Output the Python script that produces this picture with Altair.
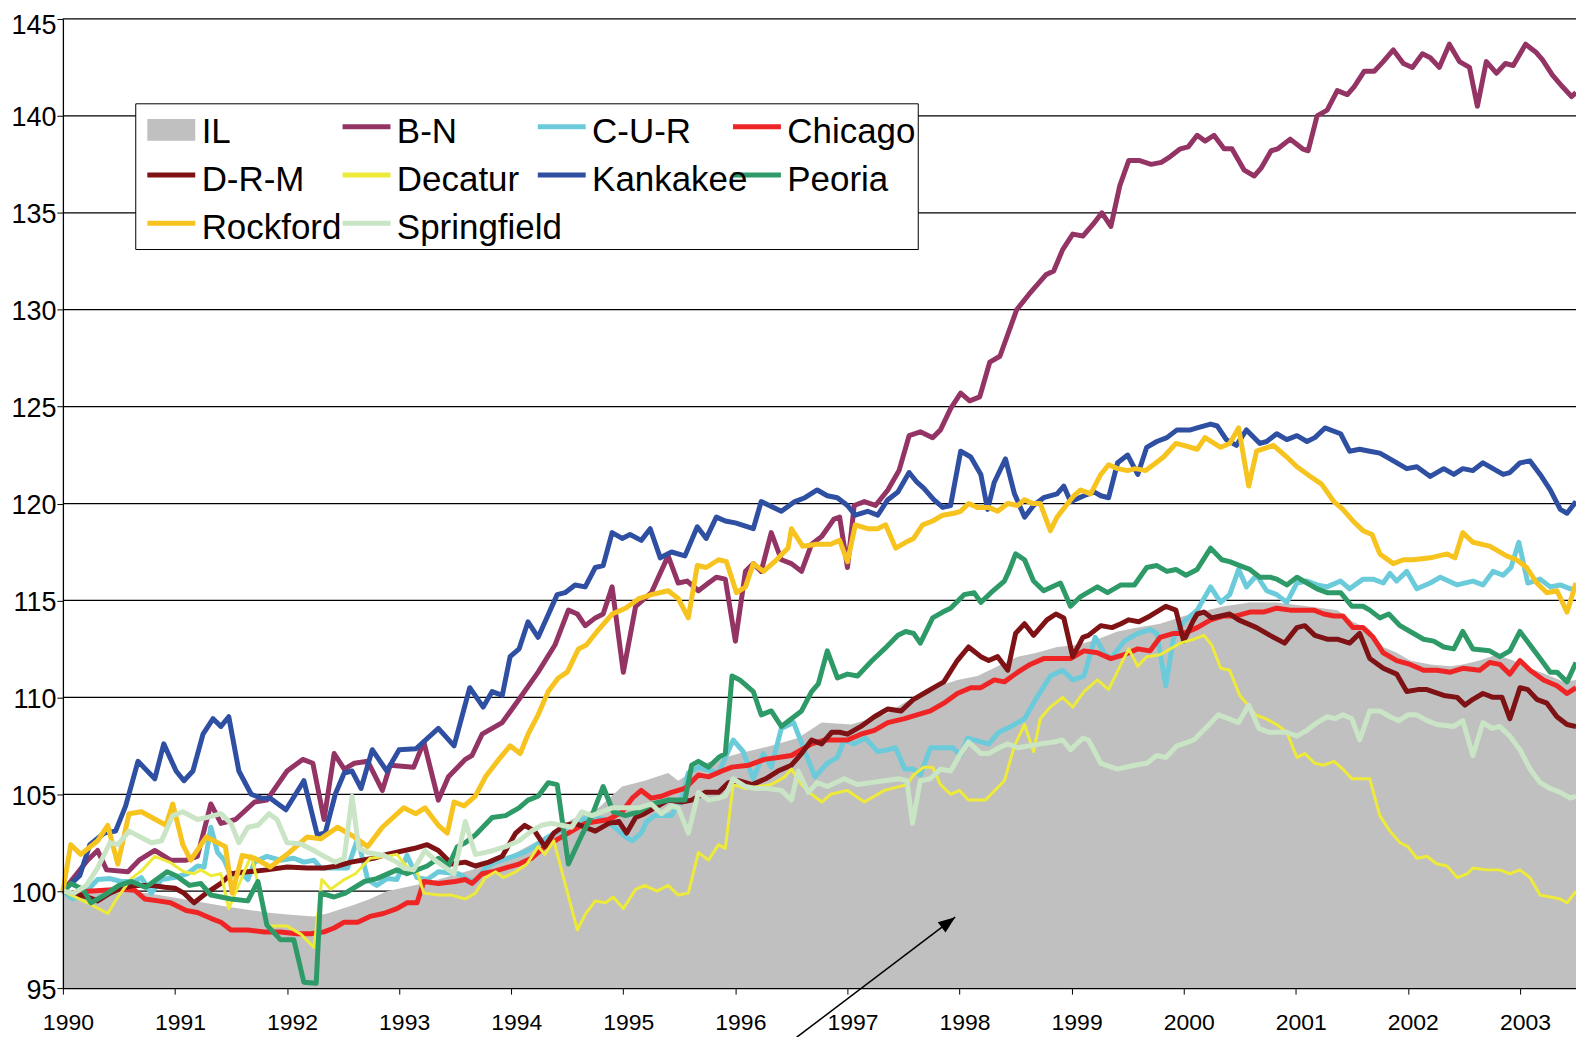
import altair as alt
import pandas as pd

# ---------------- data: (decimal year, index value) ----------------
IL = [(1990.00,100.0),(1990.22,99.9),(1990.52,100.0),(1990.76,99.9),(1990.96,99.7),(1991.17,99.5),
      (1991.47,99.2),(1991.82,98.9),(1992.00,98.8),(1992.24,98.7),(1992.36,98.85),(1992.60,99.3),
      (1992.74,99.6),(1992.89,100.0),(1993.13,100.3),(1993.35,100.6),(1993.65,101.1),(1993.95,101.7),
      (1994.24,102.6),(1994.54,103.7),(1994.78,104.3),(1994.99,105.4),(1995.19,105.7),(1995.40,106.1),
      (1995.49,105.7),(1995.73,106.6),(1996.03,107.1),(1996.32,107.5),(1996.56,107.9),(1996.77,108.7),
      (1997.03,108.6),(1997.33,109.1),(1997.56,109.9),(1997.77,110.5),(1997.98,110.9),(1998.16,111.1),
      (1998.34,111.6),(1998.52,112.1),(1998.69,112.3),(1998.87,112.6),(1999.05,112.7),(1999.23,113.0),
      (1999.41,113.4),(1999.59,113.6),(1999.79,113.8),(2000.00,114.2),(2000.15,114.4),(2000.36,114.7),
      (2000.59,114.9),(2000.83,114.9),(2001.10,114.7),(2001.37,114.5),(2001.51,113.9),(2001.66,113.5),
      (2001.78,112.6),(2001.90,112.3),(2002.02,111.9),(2002.20,111.7),(2002.38,111.6),(2002.49,111.7),
      (2002.64,111.9),(2002.79,112.2),(2002.94,111.9),(2003.09,111.5),(2003.27,111.1),(2003.39,110.8),
      (2003.50,110.9)]

B_N = [(1990.00,100.0),(1990.22,101.6),(1990.31,102.1),(1990.39,101.1),(1990.58,101.0),(1990.68,101.6),
       (1990.82,102.1),(1990.96,101.6),(1991.10,101.6),(1991.20,101.8),(1991.32,104.5),(1991.41,103.5),
       (1991.54,103.7),(1991.71,104.6),(1991.82,104.7),(1992.00,106.2),(1992.14,106.8),(1992.23,106.6),
       (1992.33,103.7),(1992.42,107.1),(1992.51,106.3),(1992.60,106.6),(1992.72,106.7),(1992.85,105.2),
       (1992.92,106.5),(1993.13,106.4),(1993.22,107.7),(1993.35,104.7),(1993.44,105.9),(1993.59,106.8),
       (1993.65,107.0),(1993.74,108.1),(1993.92,108.7),(1994.07,109.9),(1994.24,111.3),(1994.39,112.7),
       (1994.51,114.5),(1994.59,114.3),(1994.66,113.7),(1994.75,114.1),(1994.82,114.3),(1994.90,115.7),
       (1995.00,111.3),(1995.11,114.7),(1995.25,115.4),(1995.40,117.3),(1995.49,115.9),(1995.57,116.0),
       (1995.67,115.5),(1995.76,115.9),(1995.83,116.2),(1995.91,116.1),(1996.00,112.9),(1996.09,116.5),
       (1996.16,116.9),(1996.23,116.5),(1996.32,118.5),(1996.41,117.1),(1996.50,116.9),(1996.59,116.5),
       (1996.68,117.9),(1996.77,118.3),(1996.88,119.2),(1996.93,119.3),(1997.00,116.7),(1997.06,119.9),
       (1997.15,120.1),(1997.25,119.9),(1997.36,120.7),(1997.46,121.7),(1997.55,123.5),(1997.65,123.7),
       (1997.76,123.4),(1997.83,123.8),(1997.92,124.9),(1998.01,125.7),(1998.09,125.3),(1998.18,125.5),
       (1998.27,127.3),(1998.36,127.6),(1998.51,130.0),(1998.62,130.8),(1998.77,131.8),(1998.84,132.0),
       (1998.92,133.1),(1999.01,133.9),(1999.10,133.8),(1999.19,134.4),(1999.27,135.0),(1999.35,134.3),
       (1999.43,136.4),(1999.51,137.7),(1999.60,137.7),(1999.71,137.5),(1999.80,137.6),(1999.88,137.9),
       (1999.97,138.3),(2000.04,138.4),(2000.12,139.0),(2000.19,138.7),(2000.27,139.0),(2000.36,138.3),
       (2000.43,138.3),(2000.54,137.2),(2000.63,136.9),(2000.69,137.3),(2000.78,138.2),(2000.84,138.3),
       (2000.95,138.8),(2001.06,138.3),(2001.11,138.2),(2001.19,140.0),(2001.28,140.3),(2001.37,141.3),
       (2001.46,141.1),(2001.52,141.5),(2001.61,142.3),(2001.70,142.3),(2001.78,142.8),(2001.87,143.4),
       (2001.96,142.7),(2002.04,142.5),(2002.13,143.2),(2002.20,143.0),(2002.28,142.5),(2002.37,143.7),
       (2002.46,142.8),(2002.55,142.5),(2002.62,140.5),(2002.70,142.8),(2002.79,142.2),(2002.87,142.7),
       (2002.94,142.6),(2003.05,143.7),(2003.14,143.3),(2003.20,142.9),(2003.29,142.1),(2003.38,141.5),
       (2003.46,141.0),(2003.50,141.2)]

C_U_R = [(1990.00,100.0),(1990.09,99.6),(1990.18,99.8),(1990.31,100.6),(1990.42,100.65),(1990.52,100.5),
         (1990.64,100.5),(1990.70,100.7),(1990.79,99.9),(1990.88,100.6),(1990.99,100.7),(1991.11,100.9),
         (1991.20,101.3),(1991.26,101.25),(1991.32,103.3),(1991.38,102.0),(1991.44,101.6),(1991.50,100.8),
         (1991.59,101.0),(1991.65,100.6),(1991.71,101.5),(1991.82,101.8),(1991.94,101.6),(1992.06,101.7),
         (1992.15,101.5),(1992.24,101.6),(1992.30,101.2),(1992.42,101.2),(1992.54,101.2),(1992.63,102.7),
         (1992.72,100.6),(1992.80,100.3),(1992.89,100.65),(1992.98,100.6),(1993.07,101.85),(1993.16,100.7),
         (1993.25,100.6),(1993.35,101.0),(1993.53,100.9),(1993.62,100.6),(1993.68,100.5),(1993.77,101.2),
         (1993.86,101.5),(1994.07,101.9),(1994.15,102.1),(1994.33,102.8),(1994.42,103.1),(1994.54,103.4),
         (1994.63,103.7),(1994.72,103.8),(1994.84,103.7),(1995.02,102.8),(1995.08,102.6),(1995.16,103.0),
         (1995.21,103.6),(1995.28,103.9),(1995.43,103.9),(1995.52,104.8),(1995.58,106.1),(1995.67,106.4),
         (1995.85,106.1),(1995.98,107.8),(1996.07,107.2),(1996.16,105.8),(1996.25,107.1),(1996.32,106.4),
         (1996.41,108.4),(1996.52,108.7),(1996.62,107.2),(1996.71,105.9),(1996.82,106.6),(1996.91,106.9),
         (1996.97,107.8),(1997.06,107.6),(1997.16,107.9),(1997.27,107.2),(1997.36,107.3),(1997.43,107.4),
         (1997.51,106.3),(1997.59,106.3),(1997.65,106.0),(1997.74,107.4),(1997.86,107.4),(1997.94,107.4),
         (1998.01,107.0),(1998.07,107.9),(1998.19,107.7),(1998.26,107.6),(1998.35,108.2),(1998.46,108.5),
         (1998.58,108.9),(1998.69,110.0),(1998.81,111.1),(1998.92,111.4),(1999.01,110.9),(1999.11,111.1),
         (1999.21,113.1),(1999.29,112.3),(1999.35,112.0),(1999.47,112.9),(1999.59,113.3),(1999.70,113.5),
         (1999.76,113.3),(1999.84,110.6),(1999.91,113.1),(2000.00,113.9),(2000.12,114.5),(2000.24,115.7),
         (2000.33,114.9),(2000.41,115.3),(2000.49,116.6),(2000.56,115.7),(2000.65,116.3),(2000.74,115.5),
         (2000.83,115.3),(2000.92,114.9),(2001.01,115.9),(2001.10,116.0),(2001.19,115.8),(2001.28,115.7),
         (2001.40,116.0),(2001.48,115.6),(2001.60,116.1),(2001.69,116.1),(2001.78,115.9),(2001.84,116.4),
         (2001.90,116.0),(2001.99,116.5),(2002.08,115.6),(2002.20,115.9),(2002.29,116.2),(2002.44,115.8),
         (2002.58,116.0),(2002.67,115.8),(2002.76,116.5),(2002.85,116.3),(2002.92,116.7),(2002.99,118.0),
         (2003.07,115.9),(2003.18,116.1),(2003.27,115.7),(2003.36,115.8),(2003.45,115.6),(2003.50,115.6)]

CHICAGO = [(1990.00,100.0),(1990.10,99.9),(1990.22,100.0),(1990.52,100.1),(1990.64,100.05),(1990.73,99.6),
           (1990.85,99.5),(1990.96,99.4),(1991.10,99.0),(1991.20,98.9),(1991.32,98.6),(1991.41,98.4),
           (1991.50,98.0),(1991.65,98.0),(1991.80,97.9),(1991.94,97.9),(1992.09,97.8),(1992.21,97.8),
           (1992.33,97.9),(1992.42,98.1),(1992.51,98.4),(1992.63,98.4),(1992.74,98.7),(1992.86,98.85),
           (1992.98,99.1),(1993.07,99.4),(1993.16,99.4),(1993.22,100.5),(1993.35,100.4),(1993.50,100.5),
           (1993.59,100.6),(1993.65,100.4),(1993.74,100.9),(1993.83,101.0),(1993.95,101.2),(1994.07,101.4),
           (1994.18,101.7),(1994.30,102.3),(1994.42,102.7),(1994.66,103.5),(1994.87,103.7),(1994.99,104.1),
           (1995.08,104.8),(1995.16,105.2),(1995.25,104.8),(1995.34,104.9),(1995.43,105.1),(1995.55,105.3),
           (1995.67,106.0),(1995.76,105.9),(1995.88,106.2),(1995.97,106.4),(1996.12,106.5),(1996.26,106.8),
           (1996.38,106.9),(1996.50,107.0),(1996.59,107.3),(1996.68,107.6),(1996.80,107.8),(1997.00,107.8),
           (1997.12,108.1),(1997.24,108.3),(1997.36,108.7),(1997.51,108.9),(1997.62,109.1),(1997.74,109.3),
           (1997.86,109.7),(1997.98,110.2),(1998.10,110.5),(1998.19,110.5),(1998.31,110.9),(1998.40,110.8),
           (1998.52,111.3),(1998.63,111.7),(1998.75,112.0),(1998.99,112.0),(1999.11,112.4),(1999.23,112.3),
           (1999.35,112.0),(1999.47,112.2),(1999.59,112.5),(1999.70,112.4),(1999.79,113.1),(1999.91,113.3),
           (2000.00,113.3),(2000.12,113.6),(2000.24,114.0),(2000.36,114.2),(2000.47,114.2),(2000.59,114.4),
           (2000.71,114.4),(2000.83,114.6),(2000.95,114.5),(2001.16,114.5),(2001.25,114.3),(2001.34,114.2),
           (2001.42,114.2),(2001.51,113.6),(2001.60,113.6),(2001.69,113.1),(2001.78,112.3),(2001.90,111.9),
           (2002.02,111.7),(2002.14,111.4),(2002.26,111.4),(2002.38,111.3),(2002.49,111.5),(2002.64,111.4),
           (2002.73,111.8),(2002.82,111.7),(2002.91,111.2),(2003.00,111.9),(2003.09,111.4),(2003.21,110.9),
           (2003.33,110.6),(2003.42,110.2),(2003.50,110.5)]

D_R_M = [(1990.00,100.0),(1990.22,99.7),(1990.31,99.5),(1990.42,99.9),(1990.52,100.15),(1990.64,100.3),
         (1990.79,100.3),(1990.91,100.2),(1991.00,100.15),(1991.08,99.9),(1991.17,99.4),(1991.28,99.9),
         (1991.41,100.4),(1991.50,100.9),(1991.65,101.0),(1991.82,101.1),(1992.00,101.25),(1992.18,101.2),
         (1992.33,101.2),(1992.45,101.3),(1992.57,101.5),(1992.77,101.7),(1992.89,101.9),(1993.13,102.2),
         (1993.25,102.4),(1993.35,102.1),(1993.47,101.4),(1993.59,101.5),(1993.68,101.3),(1993.80,101.5),
         (1993.92,101.8),(1994.04,103.0),(1994.12,103.4),(1994.21,103.1),(1994.30,102.3),(1994.38,103.0),
         (1994.48,103.4),(1994.57,103.5),(1994.66,103.3),(1994.75,103.1),(1994.87,103.5),(1994.96,103.6),
         (1995.03,103.0),(1995.11,103.8),(1995.19,104.0),(1995.28,104.3),(1995.40,104.7),(1995.52,104.6),
         (1995.61,104.7),(1995.73,105.1),(1995.85,105.1),(1995.94,105.6),(1996.03,105.7),(1996.15,105.5),
         (1996.27,105.8),(1996.38,106.2),(1996.50,106.5),(1996.59,107.1),(1996.68,107.8),(1996.77,107.6),
         (1996.86,108.2),(1996.93,108.2),(1997.00,108.1),(1997.12,108.5),(1997.24,109.0),(1997.36,109.4),
         (1997.48,109.3),(1997.59,109.9),(1997.68,110.2),(1997.77,110.5),(1997.86,110.8),(1997.98,111.9),
         (1998.08,112.6),(1998.19,112.1),(1998.26,111.9),(1998.34,112.1),(1998.43,111.4),(1998.50,113.3),
         (1998.58,113.8),(1998.66,113.2),(1998.78,114.0),(1998.86,114.3),(1998.93,114.1),(1999.01,112.1),
         (1999.10,113.1),(1999.15,113.2),(1999.26,113.7),(1999.36,113.6),(1999.44,113.8),(1999.51,114.0),
         (1999.60,113.9),(1999.70,114.2),(1999.84,114.7),(1999.93,114.5),(2000.00,112.9),(2000.08,113.9),
         (2000.12,114.3),(2000.18,114.4),(2000.25,114.1),(2000.41,114.3),(2000.49,114.0),(2000.65,113.6),
         (2000.77,113.2),(2000.90,112.8),(2001.01,113.6),(2001.08,113.7),(2001.17,113.2),(2001.28,113.0),
         (2001.37,113.0),(2001.48,112.8),(2001.57,113.3),(2001.66,112.0),(2001.78,111.5),(2001.90,111.2),
         (2001.99,110.3),(2002.09,110.4),(2002.17,110.4),(2002.32,110.1),(2002.44,110.0),(2002.51,109.6),
         (2002.58,109.9),(2002.67,110.2),(2002.76,110.0),(2002.84,110.0),(2002.91,108.9),(2003.00,110.5),
         (2003.07,110.4),(2003.15,109.9),(2003.24,109.7),(2003.33,109.0),(2003.42,108.6),(2003.50,108.5)]

DECATUR = [(1990.00,100.0),(1990.22,99.4),(1990.40,98.85),(1990.49,99.7),(1990.61,100.65),(1990.71,101.1),
           (1990.82,101.8),(1990.95,101.5),(1991.08,101.0),(1991.17,100.9),(1991.23,101.1),(1991.32,100.8),
           (1991.41,100.9),(1991.48,99.1),(1991.68,101.85),(1991.74,100.4),(1991.82,98.2),(1992.00,98.2),
           (1992.12,97.8),(1992.24,97.1),(1992.31,100.6),(1992.39,100.1),(1992.51,100.6),(1992.61,100.9),
           (1992.74,101.7),(1992.89,101.8),(1992.98,101.9),(1993.07,101.25),(1993.16,101.0),(1993.22,99.9),
           (1993.35,99.8),(1993.47,99.8),(1993.59,99.6),(1993.68,99.9),(1993.77,100.7),(1993.86,101.0),
           (1993.93,100.7),(1994.04,101.0),(1994.14,101.4),(1994.24,102.3),(1994.30,101.9),(1994.38,102.6),
           (1994.59,98.0),(1994.66,98.8),(1994.75,99.5),(1994.84,99.4),(1994.91,99.7),(1995.00,99.1),
           (1995.11,100.1),(1995.19,100.3),(1995.30,100.0),(1995.40,100.3),(1995.49,99.8),(1995.58,99.9),
           (1995.67,102.0),(1995.76,101.6),(1995.85,102.4),(1995.91,102.2),(1995.98,105.5),(1996.09,105.3),
           (1996.21,105.4),(1996.32,105.5),(1996.44,105.9),(1996.50,106.3),(1996.59,105.5),(1996.68,105.0),
           (1996.77,104.6),(1996.85,105.0),(1997.00,105.2),(1997.15,104.6),(1997.33,105.2),(1997.53,105.5),
           (1997.59,106.0),(1997.68,106.4),(1997.76,106.4),(1997.83,105.5),(1997.92,105.0),(1998.00,105.2),
           (1998.08,104.7),(1998.23,104.7),(1998.40,105.7),(1998.49,107.5),(1998.58,108.6),(1998.66,107.2),
           (1998.72,108.9),(1998.81,109.5),(1998.92,110.0),(1999.01,109.5),(1999.11,110.3),(1999.23,110.9),
           (1999.33,110.4),(1999.44,111.7),(1999.51,112.5),(1999.59,111.6),(1999.67,112.1),(1999.79,112.2),
           (1999.88,112.5),(1999.97,112.8),(2000.09,113.0),(2000.18,113.2),(2000.25,112.7),(2000.33,111.5),
           (2000.41,111.4),(2000.50,110.1),(2000.56,109.7),(2000.64,109.1),(2000.73,108.9),(2000.83,108.6),
           (2000.92,108.2),(2001.01,106.9),(2001.08,107.1),(2001.17,106.6),(2001.25,106.5),(2001.34,106.7),
           (2001.42,106.3),(2001.50,105.8),(2001.66,105.8),(2001.75,103.9),(2001.84,103.1),(2001.93,102.5),
           (2002.00,102.3),(2002.08,101.7),(2002.17,101.8),(2002.26,101.4),(2002.35,101.3),(2002.44,100.7),
           (2002.53,100.9),(2002.58,101.2),(2002.70,101.1),(2002.82,101.1),(2002.91,100.9),(2003.00,101.1),
           (2003.09,100.7),(2003.18,99.8),(2003.27,99.7),(2003.36,99.6),(2003.42,99.4),(2003.50,100.0)]

KANKAKEE = [(1990.00,100.0),(1990.15,100.8),(1990.24,102.4),(1990.37,103.0),(1990.47,103.1),(1990.56,104.4),
            (1990.67,106.7),(1990.82,105.8),(1990.90,107.6),(1991.01,106.2),(1991.08,105.7),(1991.16,106.2),
            (1991.25,108.1),(1991.34,108.9),(1991.41,108.5),(1991.48,109.0),(1991.57,106.2),(1991.68,105.0),
            (1991.77,104.8),(1991.85,104.8),(1991.99,104.2),(1992.15,105.7),(1992.27,102.9),(1992.34,103.0),
            (1992.43,105.0),(1992.51,106.1),(1992.58,106.2),(1992.66,105.3),(1992.76,107.3),(1992.89,106.2),
            (1993.00,107.3),(1993.15,107.35),(1993.35,108.4),(1993.49,107.5),(1993.63,110.5),(1993.75,109.5),
            (1993.83,110.3),(1993.92,110.1),(1993.99,112.1),(1994.07,112.5),(1994.15,113.9),(1994.24,113.1),
            (1994.41,115.3),(1994.48,115.4),(1994.57,115.8),(1994.66,115.7),(1994.75,116.7),(1994.82,116.8),
            (1994.90,118.5),(1994.99,118.2),(1995.06,118.4),(1995.16,118.1),(1995.24,118.7),(1995.33,117.2),
            (1995.43,117.5),(1995.55,117.3),(1995.66,118.8),(1995.74,118.2),(1995.83,119.3),(1995.91,119.1),
            (1996.00,119.0),(1996.16,118.7),(1996.23,120.1),(1996.41,119.6),(1996.53,120.1),(1996.62,120.3),
            (1996.73,120.7),(1996.82,120.4),(1996.91,120.3),(1997.00,119.9),(1997.07,119.4),(1997.18,119.6),
            (1997.27,119.4),(1997.36,120.2),(1997.45,120.6),(1997.55,121.6),(1997.62,121.1),(1997.68,120.8),
            (1997.77,120.2),(1997.85,119.8),(1997.92,119.9),(1998.01,122.7),(1998.10,122.4),(1998.19,121.5),
            (1998.25,119.7),(1998.31,121.1),(1998.41,122.3),(1998.49,120.5),(1998.58,119.3),(1998.66,119.9),
            (1998.75,120.3),(1998.87,120.5),(1998.93,120.9),(1998.99,120.1),(1999.11,120.4),(1999.20,120.6),
            (1999.26,120.4),(1999.33,120.3),(1999.41,122.1),(1999.50,122.5),(1999.59,121.5),(1999.67,122.9),
            (1999.76,123.2),(1999.85,123.4),(1999.94,123.8),(2000.06,123.8),(2000.12,123.9),(2000.24,124.1),
            (2000.30,124.0),(2000.38,123.3),(2000.47,123.0),(2000.56,123.8),(2000.68,123.1),(2000.74,123.2),
            (2000.83,123.6),(2000.92,123.3),(2001.01,123.5),(2001.10,123.2),(2001.17,123.4),(2001.26,123.9),
            (2001.40,123.6),(2001.48,122.7),(2001.57,122.8),(2001.66,122.7),(2001.75,122.6),(2001.84,122.3),
            (2001.99,121.8),(2002.08,121.9),(2002.20,121.4),(2002.32,121.8),(2002.41,121.5),(2002.49,121.8),
            (2002.58,121.7),(2002.67,122.1),(2002.76,121.8),(2002.85,121.5),(2002.91,121.6),(2003.00,122.1),
            (2003.09,122.2),(2003.18,121.5),(2003.27,120.7),(2003.36,119.7),(2003.42,119.5),(2003.50,120.1)]

PEORIA = [(1990.00,100.0),(1990.07,100.4),(1990.18,100.1),(1990.25,99.4),(1990.37,99.8),(1990.50,100.3),
          (1990.61,100.5),(1990.74,100.2),(1990.93,101.0),(1991.01,100.8),(1991.13,100.3),(1991.23,100.4),
          (1991.32,99.8),(1991.50,99.6),(1991.65,99.5),(1991.74,100.5),(1991.82,98.25),(1991.94,97.5),
          (1992.06,97.5),(1992.15,95.3),(1992.26,95.25),(1992.30,99.9),(1992.42,99.7),(1992.52,99.9),
          (1992.69,100.5),(1992.80,100.65),(1992.98,101.1),(1993.07,100.9),(1993.25,101.3),(1993.35,101.7),
          (1993.44,101.3),(1993.52,102.3),(1993.59,102.5),(1993.68,102.9),(1993.83,103.8),(1993.95,103.9),
          (1994.07,104.3),(1994.15,104.7),(1994.24,104.9),(1994.33,105.6),(1994.41,105.5),(1994.51,101.4),
          (1994.63,102.9),(1994.72,103.9),(1994.82,105.4),(1994.91,104.1),(1995.02,103.9),(1995.14,104.1),
          (1995.25,104.5),(1995.40,104.7),(1995.55,104.7),(1995.61,106.5),(1995.67,106.7),(1995.76,106.4),
          (1995.85,106.9),(1995.91,107.1),(1995.97,111.1),(1996.04,110.9),(1996.16,110.3),(1996.23,109.1),
          (1996.32,109.3),(1996.41,108.5),(1996.50,108.9),(1996.59,109.3),(1996.68,110.3),(1996.74,110.7),
          (1996.82,112.4),(1996.91,111.0),(1997.00,111.2),(1997.09,111.1),(1997.22,111.9),(1997.33,112.5),
          (1997.45,113.2),(1997.52,113.4),(1997.59,113.3),(1997.65,112.8),(1997.76,114.1),(1997.85,114.4),
          (1997.92,114.6),(1998.04,115.3),(1998.13,115.4),(1998.19,114.9),(1998.28,115.4),(1998.40,116.0),
          (1998.44,116.5),(1998.50,117.4),(1998.58,117.1),(1998.66,116.0),(1998.75,115.5),(1998.90,115.9),
          (1998.99,114.7),(1999.08,115.2),(1999.23,115.7),(1999.32,115.4),(1999.44,115.8),(1999.56,115.8),
          (1999.67,116.7),(1999.76,116.8),(1999.85,116.5),(1999.93,116.6),(2000.02,116.3),(2000.12,116.6),
          (2000.24,117.7),(2000.34,117.1),(2000.41,117.0),(2000.50,116.8),(2000.59,116.6),(2000.68,116.2),
          (2000.77,116.2),(2000.83,116.1),(2000.92,115.8),(2001.01,116.2),(2001.10,115.9),(2001.19,115.6),
          (2001.28,115.4),(2001.40,115.4),(2001.50,114.7),(2001.60,114.7),(2001.66,114.5),(2001.75,114.1),
          (2001.83,114.3),(2001.93,113.7),(2002.02,113.4),(2002.14,113.0),(2002.23,112.9),(2002.32,112.6),
          (2002.41,112.5),(2002.49,113.4),(2002.58,112.5),(2002.73,112.4),(2002.82,112.1),(2002.91,112.4),
          (2003.00,113.4),(2003.09,112.7),(2003.18,112.0),(2003.27,111.3),(2003.33,111.3),(2003.42,110.8),
          (2003.50,111.8)]

ROCKFORD = [(1990.00,100.0),(1990.07,102.4),(1990.16,101.9),(1990.31,102.6),(1990.40,103.4),(1990.49,101.4),
            (1990.59,104.0),(1990.70,104.1),(1990.92,103.4),(1990.98,104.5),(1991.07,102.4),(1991.14,101.6),
            (1991.28,102.8),(1991.45,102.3),(1991.51,99.9),(1991.60,101.85),(1991.71,101.7),(1991.85,101.25),
            (1992.00,101.9),(1992.18,102.8),(1992.30,102.7),(1992.45,103.3),(1992.60,102.8),(1992.72,102.3),
            (1992.85,103.3),(1993.04,104.3),(1993.15,104.0),(1993.23,104.3),(1993.35,103.4),(1993.43,103.0),
            (1993.49,104.6),(1993.58,104.4),(1993.68,104.9),(1993.77,105.9),(1993.89,106.8),(1993.99,107.5),
            (1994.08,107.1),(1994.15,108.1),(1994.24,109.1),(1994.33,110.3),(1994.42,111.0),(1994.50,111.3),
            (1994.60,112.5),(1994.67,112.7),(1994.78,113.5),(1994.90,114.3),(1995.02,114.6),(1995.14,115.1),
            (1995.25,115.3),(1995.40,115.5),(1995.49,115.1),(1995.58,114.1),(1995.66,116.8),(1995.74,116.7),
            (1995.85,117.1),(1995.92,117.0),(1996.01,115.4),(1996.09,115.7),(1996.16,116.9),(1996.25,116.5),
            (1996.35,117.0),(1996.47,117.7),(1996.50,118.7),(1996.60,117.8),(1996.73,117.9),(1996.85,117.9),
            (1996.93,118.1),(1997.00,117.0),(1997.07,118.9),(1997.18,118.7),(1997.27,118.7),(1997.34,118.9),
            (1997.43,117.7),(1997.52,118.0),(1997.59,118.2),(1997.67,118.9),(1997.76,119.1),(1997.85,119.4),
            (1997.95,119.5),(1998.01,119.6),(1998.08,120.0),(1998.16,119.8),(1998.26,119.8),(1998.34,119.6),
            (1998.43,120.0),(1998.52,119.9),(1998.58,120.2),(1998.65,120.0),(1998.72,120.0),(1998.81,118.6),
            (1998.87,119.3),(1998.95,119.9),(1999.02,120.4),(1999.08,120.7),(1999.17,120.5),(1999.26,121.5),
            (1999.33,122.0),(1999.41,121.8),(1999.50,121.7),(1999.57,121.8),(1999.66,121.7),(1999.73,122.0),
            (1999.82,122.4),(1999.93,123.1),(2000.00,123.0),(2000.12,122.8),(2000.19,123.4),(2000.33,122.9),
            (2000.41,123.1),(2000.49,123.9),(2000.58,120.9),(2000.65,122.7),(2000.80,123.0),(2000.92,122.4),
            (2001.01,121.9),(2001.13,121.4),(2001.23,121.0),(2001.34,120.1),(2001.42,119.7),(2001.51,119.1),
            (2001.60,118.6),(2001.68,118.4),(2001.75,117.4),(2001.87,116.9),(2001.96,117.1),(2002.05,117.1),
            (2002.20,117.2),(2002.35,117.4),(2002.42,117.2),(2002.49,118.5),(2002.58,118.0),(2002.73,117.8),
            (2002.88,117.3),(2002.97,117.1),(2003.06,116.7),(2003.15,115.9),(2003.24,115.4),(2003.33,115.5),
            (2003.42,114.4),(2003.50,115.9)]

SPRINGFIELD = [(1990.00,100.0),(1990.10,99.9),(1990.21,100.3),(1990.31,101.2),(1990.42,102.5),(1990.49,102.4),
               (1990.59,103.1),(1990.79,102.5),(1990.88,102.6),(1990.98,103.9),(1991.07,104.1),(1991.20,103.7),
               (1991.28,103.8),(1991.41,104.0),(1991.50,103.5),(1991.57,102.5),(1991.65,103.3),(1991.74,103.4),
               (1991.84,104.0),(1991.91,103.7),(1992.00,102.5),(1992.12,102.45),(1992.24,102.1),(1992.33,101.8),
               (1992.43,101.5),(1992.51,101.7),(1992.58,104.9),(1992.64,102.2),(1992.72,102.0),(1992.86,101.85),
               (1992.98,101.5),(1993.04,101.2),(1993.13,101.1),(1993.23,102.1),(1993.32,101.6),(1993.49,100.9),
               (1993.59,103.6),(1993.68,101.9),(1993.77,102.0),(1993.84,102.1),(1993.95,102.3),(1994.07,102.6),
               (1994.18,103.1),(1994.27,103.4),(1994.36,103.5),(1994.45,103.4),(1994.54,103.3),(1994.63,104.1),
               (1994.72,103.9),(1994.81,104.1),(1994.90,104.3),(1995.02,104.3),(1995.14,104.3),(1995.25,104.5),
               (1995.34,104.0),(1995.43,104.4),(1995.49,104.3),(1995.58,103.0),(1995.67,105.1),(1995.76,104.7),
               (1995.85,104.8),(1995.91,104.9),(1995.98,105.8),(1996.09,105.4),(1996.18,105.3),(1996.29,105.3),
               (1996.41,105.2),(1996.50,104.7),(1996.56,106.2),(1996.65,105.1),(1996.73,105.6),(1996.82,105.4),
               (1996.97,105.8),(1997.09,105.5),(1997.21,105.6),(1997.33,105.7),(1997.46,105.8),(1997.53,105.7),
               (1997.58,103.5),(1997.65,105.7),(1997.74,105.8),(1997.83,106.3),(1997.92,106.2),(1998.01,107.1),
               (1998.08,107.7),(1998.19,107.1),(1998.26,107.1),(1998.35,107.4),(1998.43,107.6),(1998.52,107.4),
               (1998.63,107.5),(1998.72,107.6),(1998.84,107.7),(1998.92,107.8),(1998.99,107.3),(1999.10,107.9),
               (1999.15,107.8),(1999.26,106.6),(1999.41,106.3),(1999.56,106.5),(1999.67,106.6),(1999.76,107.0),
               (1999.84,106.9),(1999.94,107.5),(2000.09,107.8),(2000.21,108.5),(2000.31,109.1),(2000.40,108.9),
               (2000.49,108.7),(2000.58,109.6),(2000.67,108.4),(2000.76,108.2),(2000.92,108.2),(2001.01,108.0),
               (2001.10,108.3),(2001.19,108.7),(2001.28,109.0),(2001.35,108.9),(2001.42,109.1),(2001.50,108.9),
               (2001.57,107.8),(2001.66,109.3),(2001.75,109.3),(2001.84,109.0),(2001.92,108.8),(2002.00,109.1),
               (2002.08,109.1),(2002.17,108.8),(2002.26,108.6),(2002.41,108.5),(2002.49,108.8),(2002.58,107.0),
               (2002.67,108.7),(2002.75,108.4),(2002.82,108.5),(2002.91,108.0),(2003.00,107.3),(2003.09,106.3),
               (2003.18,105.6),(2003.27,105.3),(2003.36,105.1),(2003.45,104.8),(2003.50,104.9)]

SERIES = ["IL", "B-N", "C-U-R", "Chicago", "D-R-M", "Decatur", "Kankakee", "Peoria", "Rockford", "Springfield"]
SERIES_DATA = {"IL": IL, "B-N": B_N, "C-U-R": C_U_R, "Chicago": CHICAGO, "D-R-M": D_R_M,
               "Decatur": DECATUR, "Kankakee": KANKAKEE, "Peoria": PEORIA, "Rockford": ROCKFORD,
               "Springfield": SPRINGFIELD}
X_TICKS = list(range(1990, 2004))
Y_TICKS = list(range(95, 146, 5))
BASELINE = 95
ARROW = {"t": [1996.545, 1997.961], "v": [92.456, 98.661]}   # tail, tip

# ---------------- styles ----------------
COLORS = {"IL": "#C0C0C0", "B-N": "#933464", "C-U-R": "#6CCBDA", "Chicago": "#EE2524",
          "D-R-M": "#7E1214", "Decatur": "#EEEA3A", "Kankakee": "#2E4FA2", "Peoria": "#2E9A68",
          "Rockford": "#F6C31F", "Springfield": "#C9E5C5"}
WIDTHS = {"Decatur": 3}
FONT = "Liberation Sans"

rows = []
for name in SERIES:
    for t, v in SERIES_DATA[name]:
        rows.append({"series": name, "t": t, "v": v, "base": BASELINE})
df = pd.DataFrame(rows)

xs = alt.Scale(domain=[1990, 2003.5], nice=False, zero=False)
ys = alt.Scale(domain=[95, 145], nice=False, zero=False)

x_axis = alt.Axis(values=X_TICKS, format="d", title=None, grid=False, tickSize=6, tickColor="black",
                  tickWidth=1, domainColor="black", domainWidth=1.3, labelFont=FONT, labelFontSize=23,
                  labelColor="black", labelPadding=35, labelBaseline="alphabetic", labelOffset=5,
                  labelFlush=False, labelOverlap=False, zindex=1)
y_axis = alt.Axis(values=Y_TICKS, title=None, grid=False, tickSize=6, tickColor="black", tickWidth=1,
                  domainColor="black", domainWidth=1.3, labelFont=FONT, labelFontSize=27,
                  labelColor="black", labelPadding=1,
                  labelOffset={"condition": {"test": "datum.value === 145", "value": 7}, "value": 2},
                  labelOverlap=False, zindex=1)

grid = alt.Chart(pd.DataFrame({"v": Y_TICKS})).mark_rule(color="black", strokeWidth=1.3).encode(
    y=alt.Y("v:Q", scale=ys, axis=y_axis))

area = alt.Chart(df).transform_filter(alt.datum.series == "IL").mark_area(
    color=COLORS["IL"], opacity=1).encode(
    x=alt.X("t:Q", scale=xs, axis=x_axis),
    y=alt.Y("v:Q", scale=ys),
    y2="base:Q")

lines = []
for name in SERIES[1:]:
    lines.append(
        alt.Chart(df).transform_filter(alt.datum.series == name).mark_line(
            color=COLORS[name], strokeWidth=WIDTHS.get(name, 5), strokeJoin="round").encode(
            x=alt.X("t:Q", scale=xs), y=alt.Y("v:Q", scale=ys), order="t:Q"))

arrow_df = pd.DataFrame(ARROW)
arrow_line = alt.Chart(arrow_df).mark_line(color="black", strokeWidth=1.5, clip=False).encode(
    x=alt.X("t:Q", scale=xs), y=alt.Y("v:Q", scale=ys))
arrow_head = alt.Chart(arrow_df.iloc[[1]]).mark_point(
    shape="M0,0L-0.38,1L0.38,1Z", filled=True, size=1156, angle=53, color="black", opacity=1).encode(
    x=alt.X("t:Q", scale=xs), y=alt.Y("v:Q", scale=ys))

data_layer = alt.layer(grid, area, *lines, arrow_line, arrow_head)

# ---------------- legend (drawn manually, 4 columns) ----------------
leg = pd.DataFrame({"name": SERIES, "idx": list(range(len(SERIES))),
                    "color": [COLORS[n] for n in SERIES]})
leg_base = alt.Chart(leg).transform_calculate(
    col="datum.idx % 4", row="floor(datum.idx / 4)").transform_calculate(
    sx0="84.6 + datum.col * 195.6", sy="108 + datum.row * 48.3").transform_calculate(
    sx1="datum.sx0 + 48", tx="datum.sx0 + 54.4", ty="datum.sy + 16",
    ry0="datum.sy - 7.7", ry1="datum.sy + 14")

box = alt.Chart(pd.DataFrame({"k": [0]})).mark_rect(fill="white", stroke="black", strokeWidth=1).encode(
    x=alt.value(73), x2=alt.value(857), y=alt.value(85), y2=alt.value(231))
il_sym = leg_base.transform_filter(alt.datum.name == "IL").mark_rect(color=COLORS["IL"]).encode(
    x=alt.X("sx0:Q", scale=None, axis=None), x2="sx1:Q",
    y=alt.Y("ry0:Q", scale=None, axis=None), y2="ry1:Q")
line_sym = leg_base.transform_filter(alt.datum.name != "IL").mark_rule(strokeWidth=5).encode(
    x=alt.X("sx0:Q", scale=None, axis=None), x2="sx1:Q",
    y=alt.Y("sy:Q", scale=None, axis=None),
    color=alt.Color("color:N", scale=None, legend=None))
leg_text = leg_base.mark_text(align="left", baseline="alphabetic", font=FONT, fontSize=35,
                              color="black").encode(
    x=alt.X("tx:Q", scale=None, axis=None), y=alt.Y("ty:Q", scale=None, axis=None), text="name:N")

legend_layer = alt.layer(box, il_sym, line_sym, leg_text)

chart = alt.layer(data_layer, legend_layer).resolve_scale(
    x="independent", y="independent", color="independent").properties(
    width=1516, height=971,
    autosize=alt.AutoSizeParams(type="none"),
    padding={"left": 55, "top": 10, "right": 0, "bottom": 49},
    background="white").configure_view(stroke=None)

chart.save("out.html", embed_options={"renderer": "svg", "actions": False})
